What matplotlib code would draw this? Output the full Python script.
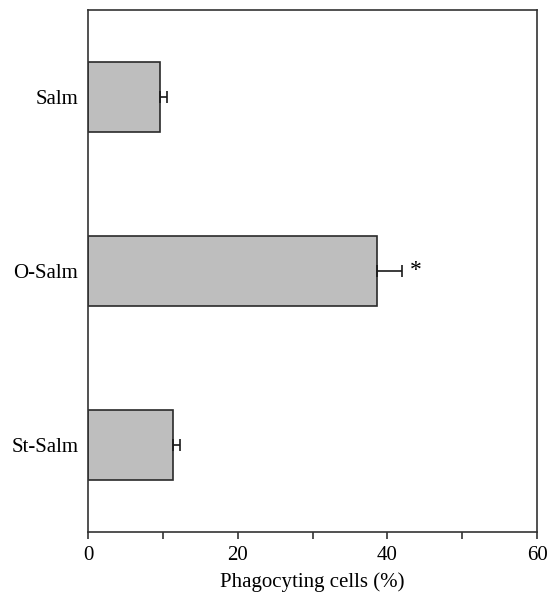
import matplotlib
matplotlib.use("Agg")
import matplotlib.pyplot as plt
import numpy as np

groups = ["Salm", "O-Salm", "St-Salm"]
means = [9.6, 38.6, 11.3]
errs = [1.0, 3.4, 1.0]
marks = ["", "*", ""]

plt.rcParams["font.family"] = ["Liberation Serif", "DejaVu Serif"]

fig = plt.figure(figsize=(5.47, 6.02), dpi=100)
ax = fig.add_axes([88 / 547, (602 - 532) / 602, (537 - 88) / 547, 522 / 602])

y = np.arange(len(groups))[::-1]
ax.barh(y, means, height=0.4, color="#bebebe", edgecolor="#2a2a2a", linewidth=1.2,
        zorder=2)
ax.errorbar(means, y, xerr=[np.zeros(len(errs)), errs], fmt="none", ecolor="#1a1a1a",
            elinewidth=1.2, capsize=4, capthick=1.2, zorder=3)
for yi, m, e, s in zip(y, means, errs, marks):
    if s:
        ax.text(m + e + 1.0, yi, s, ha="left", va="center", fontsize=17)

ax.set_xlim(0, 60)
ax.set_ylim(-0.5, 2.5)
ax.set_xticks([0, 20, 40, 60])
ax.set_xticks([10, 30, 50], minor=True)
ax.set_yticks(y)
ax.set_yticklabels(groups)
ax.tick_params(axis="y", length=0, pad=7, labelsize=15)
ax.tick_params(axis="x", which="both", direction="out", length=5, width=1.2,
               labelsize=15, pad=5, color="#333333")
ax.set_xlabel("Phagocyting cells (%)", fontsize=15, labelpad=5)
for sp in ax.spines.values():
    sp.set_linewidth(1.2)
    sp.set_color("#333333")

fig.savefig("out.png", dpi=100)
